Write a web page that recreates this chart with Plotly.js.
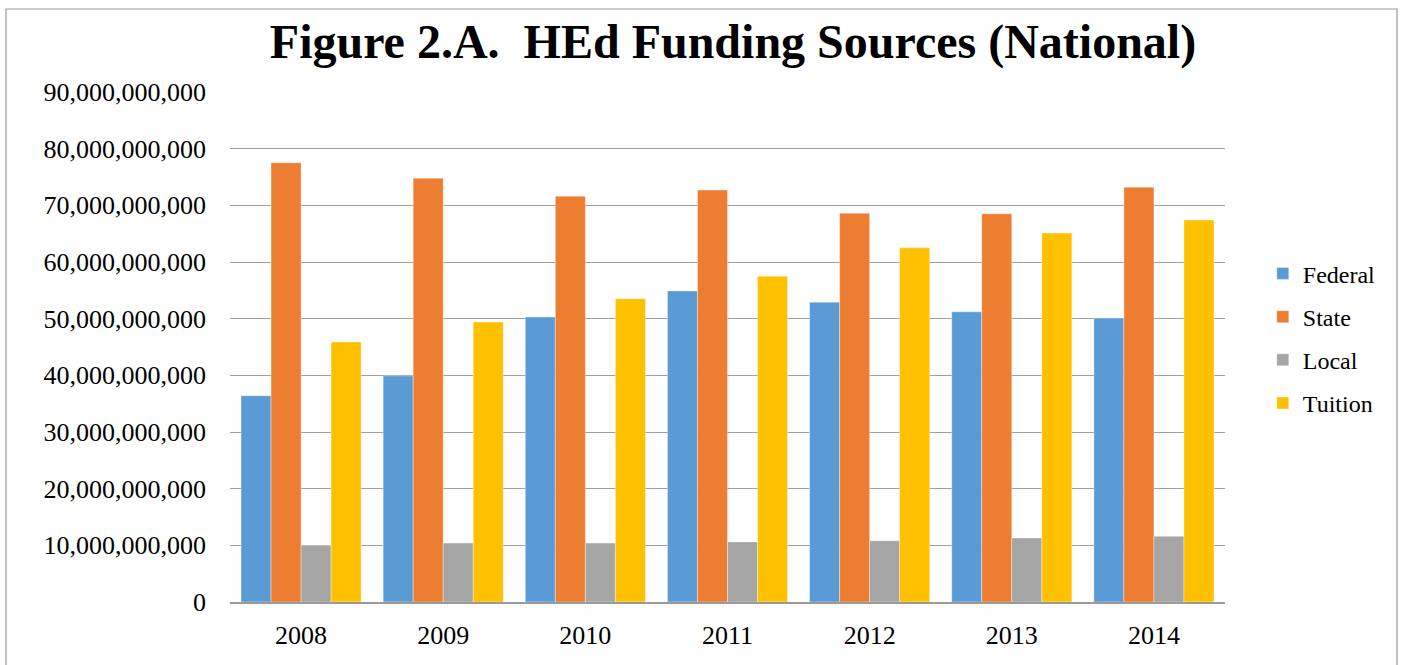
<!DOCTYPE html>
<html>
<head>
<meta charset="utf-8">
<script src="https://cdn.plot.ly/plotly-3.0.1.min.js"></script>
<style>html,body{margin:0;padding:0;background:#fff;}#chart{width:1401px;height:665px;}</style>
</head>
<body>
<div id="chart"></div>
<script>
const years = ['2008','2009','2010','2011','2012','2013','2014'];
const federal = [36.4e9, 39.9e9, 50.3e9, 54.9e9, 52.9e9, 51.2e9, 50.1e9];
const state   = [77.5e9, 74.8e9, 71.6e9, 72.7e9, 68.6e9, 68.5e9, 73.2e9];
const local   = [10.0e9, 10.4e9, 10.4e9, 10.6e9, 10.8e9, 11.3e9, 11.6e9];
const tuition = [45.9e9, 49.4e9, 53.5e9, 57.5e9, 62.5e9, 65.1e9, 67.4e9];
const seriesNames = ['Federal','State','Local','Tuition'];
const seriesColors = ['#5B9BD5','#ED7D31','#A5A5A5','#FFC000'];
const seriesValues = [federal, state, local, tuition];

const traces = seriesValues.map((v, i) => ({
  type: 'bar',
  name: seriesNames[i],
  x: years,
  y: v,
  legendgroup: seriesNames[i],
  marker: {color: seriesColors[i], line: {color: 'rgba(255,255,255,0.6)', width: 0.6}},
  hoverinfo: 'skip'
}));

const font = "'Liberation Serif', 'Times New Roman', serif";
const layout = {
  width: 1401, height: 665,
  margin: {l: 230, r: 176, t: 92, b: 63},
  paper_bgcolor: '#fff', plot_bgcolor: '#fff',
  font: {family: font, size: 26, color: '#000'},
  title: {
    text: '<b>Figure 2.A.&nbsp; HEd Funding Sources (National)</b>',
    font: {family: font, size: 48, color: '#000'},
    x: (733-230)/995, xanchor: 'center', xref: 'paper',
    y: 1 - 41/665, yanchor: 'middle', yref: 'container'
  },
  barmode: 'group',
  bargap: 0.155,
  bargroupgap: 0,
  showlegend: true,
  legend: {
    x: 1.038, xanchor: 'left', y: 0.517, yanchor: 'middle',
    font: {family: font, size: 24, color: '#000'},
    traceorder: 'grouped', tracegroupgap: 9,
    itemclick: false
  },
  xaxis: {
    type: 'category',
    showgrid: false, zeroline: false,
    showline: true, linecolor: '#9a9a9a', linewidth: 1.5,
    ticks: '', ticklabelstandoff: 9,
    tickfont: {family: font, size: 26, color: '#000'}
  },
  yaxis: {
    range: [0, 9e10], dtick: 1e10, tick0: 0,
    tickformat: ',d',
    showgrid: true, gridcolor: '#a0a0a0', gridwidth: 1,
    zeroline: false, showline: false, ticks: '',
    ticklabelstandoff: 23,
    tickfont: {family: font, size: 26, color: '#000'}
  },
  shapes: [
    {type: 'rect', xref: 'paper', yref: 'paper',
     x0: (6-230)/995, x1: (1397-230)/995, y0: -0.3, y1: (602-9)/510,
     line: {color: '#9a9a9a', width: 1.2}, fillcolor: 'rgba(0,0,0,0)', layer: 'below'}
  ]
};

Plotly.newPlot('chart', traces, layout, {displayModeBar: false, staticPlot: true});
</script>
</body>
</html>
